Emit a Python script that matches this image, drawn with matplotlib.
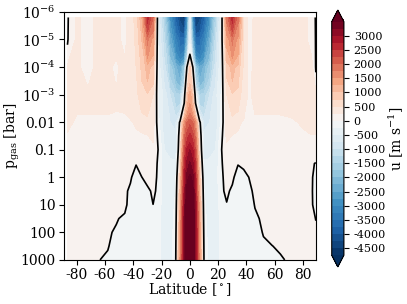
import numpy as np
import matplotlib
matplotlib.use("Agg")
import matplotlib.pyplot as plt
from matplotlib.colors import TwoSlopeNorm

plt.rcParams.update({
    "font.family": "serif",
    "font.serif": ["DejaVu Serif"],
    "mathtext.fontset": "dejavuserif",
})

# latitude nodes [deg] and pressure levels [bar] of the zonal-mean wind table
lat = [-86.5, -80, -72, -64, -58, -52, -46, -42, -38, -34, -30, -26, -22, -18,
       -14, -10, -7, -4, -2, 0, 2, 4, 7, 10, 14, 18, 22, 26, 30, 34, 38, 42,
       46, 52, 58, 64, 72, 80, 86, 89]
pres = [1.6e-6, 1e-5, 1e-4, 1e-3, 1e-2, 0.0316, 0.1, 0.316, 1, 3.16, 10,
        31.6, 100, 316, 1000]

# zonal wind u [m/s], one row per pressure level (top to bottom)
u_wind = [
    [-30, 300, 150, 350, 350, 300, 200, 350, 600, 1200, 2600, 2000, -600, -1500, -2800, -3800, -4300, -4600, -3000, -600,
     -3000, -4600, -4300, -3800, -2800, -1500, -400, 1800, 2600, 1800, 500, 150, 300, 350, 350, 300, 350, 300, 200, -30],
    [-20, 300, 150, 350, 350, 300, 200, 350, 550, 1000, 1800, 1400, -500, -1200, -2300, -3200, -3600, -3600, -2200, -300,
     -2200, -3600, -3600, -3200, -2300, -1200, -300, 1300, 1800, 1400, 500, 150, 350, 350, 300, 350, 350, 300, 200, -20],
    [300, 300, 150, 350, 300, 200, 350, 350, 500, 800, 1100, 900, -400, -900, -1600, -2200, -2500, -1800, 100, 800,
     100, -1800, -2500, -2200, -1600, -900, -300, 800, 1100, 900, 450, 150, 350, 350, 300, 350, 350, 300, 350, -20],
    [350, 300, 350, 350, 350, 300, 300, 350, 450, 600, 700, 500, -300, -600, -1000, -1400, -1500, -200, 900, 1400,
     900, -200, -1500, -1400, -1000, -600, -250, 500, 700, 600, 400, 200, 350, 350, 350, 350, 350, 350, 350, 300],
    [330, 200, 150, 150, 150, 150, 180, 220, 300, 350, 350, 350, -200, -700, -750, -800, 100, 1500, 2000, 2200,
     2000, 1500, 100, -800, -750, -700, -200, 350, 350, 300, 220, 150, 150, 150, 150, 150, 200, 300, 330, 330],
    [200, 150, 120, 120, 120, 120, 120, 120, 150, 200, 240, 300, -100, -600, -650, -700, 300, 1900, 2400, 2600,
     2400, 1900, 300, -700, -650, -600, -100, 300, 240, 200, 150, 120, 120, 120, 120, 120, 120, 150, 240, 240],
    [100, 100, 100, 100, 100, 100, 100, 100, 100, 120, 150, 150, -20, -500, -550, -600, 400, 2200, 2800, 3000,
     2800, 2200, 400, -600, -550, -500, -20, 150, 150, 120, 100, 100, 100, 100, 100, 100, 100, 100, 100, 100],
    [100, 100, 100, 100, 100, 100, 100, 100, 11, 100, 100, 100, -40, -450, -450, -450, 600, 2500, 3100, 3300,
     3100, 2500, 600, -450, -450, -450, -30, 100, 100, 11, 43, 100, 100, 100, 100, 100, 100, 100, 20, -10],
    [100, 100, 100, 100, 100, 100, 100, 43, -150, -4, 100, 100, -60, -400, -400, -300, 800, 2700, 3400, 3600,
     3400, 2700, 800, -300, -400, -400, -60, 100, 67, -150, -100, 11, 100, 100, 100, 100, 100, 100, 20, -60],
    [100, 100, 100, 100, 100, 100, 100, -100, -150, -150, -100, 80, -100, -400, -400, -250, 1000, 2800, 3700, 3900,
     3700, 2800, 1000, -250, -400, -400, -100, 100, -100, -150, -150, -100, 100, 100, 100, 100, 100, 100, 20, -80],
    [100, 100, 100, 100, 100, 100, 92, -150, -150, -150, -150, -5, -150, -400, -400, -200, 1200, 3000, 3900, 4200,
     3900, 3000, 1200, -200, -400, -400, -150, -43, -150, -150, -150, -150, 19, 100, 100, 100, 100, 100, 20, -60],
    [100, 100, 100, 100, 100, 43, -100, -150, -150, -150, -150, -200, -200, -400, -400, -150, 1300, 3100, 3900, 4300,
     3900, 3100, 1300, -150, -400, -400, -200, -200, -150, -150, -150, -150, -100, 100, 100, 100, 100, 100, 50, -5],
    [100, 100, 100, 100, 100, -100, -150, -150, -150, -150, -150, -200, -200, -400, -400, -100, 1400, 3100, 3900, 4300,
     3900, 3100, 1400, -100, -400, -400, -200, -200, -150, -150, -150, -150, -150, 25, 100, 100, 100, 100, 100, 50],
    [100, 100, 100, 100, 25, -150, -150, -150, -150, -150, -150, -200, -200, -400, -400, -50, 1400, 3100, 3900, 4300,
     3900, 3100, 1400, -50, -400, -400, -200, -200, -150, -150, -150, -150, -150, -100, -11, 79, 100, 100, 100, 100],
    [100, 100, 100, 10, -100, -150, -150, -150, -150, -150, -150, -200, -200, -400, -400, -20, 1500, 3100, 3900, 4300,
     3900, 3100, 1500, -20, -400, -400, -200, -150, -150, -150, -150, -150, -150, -150, -100, -100, 167, 100, 100, 100],
]

levels = np.arange(-4750, 3501, 250)
cbar_ticks = np.arange(-4500, 3001, 500)
lat_ticks = np.arange(-80, 81, 20)
p_ticks = [1e-6, 1e-5, 1e-4, 1e-3, 1e-2, 0.1, 1, 10, 100, 1000]
p_labels = ['$10^{-6}$', '$10^{-5}$', '$10^{-4}$', '$10^{-3}$', '0.01', '0.1', '1', '10', '100', '1000']

fig = plt.figure(figsize=(4.07, 3.04), dpi=100)
ax = fig.add_axes([0.157, 0.145, 0.619, 0.816])
cax = fig.add_axes([0.815, 0.122, 0.030, 0.845])

u = np.array(u_wind, dtype=float)
norm = TwoSlopeNorm(vmin=levels[0], vcenter=0, vmax=levels[-1])
cf = ax.contourf(lat, pres, u, levels=levels, cmap='RdBu_r', norm=norm, extend='both')
ax.contour(lat, pres, u, levels=[0], colors='k', linewidths=1.2)

ax.set_yscale('log')
ax.set_ylim(1000, 1e-6)
ax.set_xlim(-89, 89)
ax.set_yticks(p_ticks)
ax.set_yticklabels(p_labels)
ax.minorticks_off()
ax.set_xticks(lat_ticks)
ax.set_xticklabels([str(t) for t in lat_ticks])
ax.tick_params(labelsize=10, pad=2.5)
ax.set_xlabel(r'Latitude [$^\circ$]', fontsize=10, labelpad=-1)
ax.set_ylabel(r'p$_{\rm gas}$ [bar]', fontsize=10, labelpad=-1)

cb = fig.colorbar(cf, cax=cax)
cb.set_ticks(cbar_ticks)
cb.set_ticklabels([str(t) for t in cbar_ticks])
cb.ax.tick_params(labelsize=8)
cb.set_label(r'u [m s$^{-1}$]', fontsize=10, labelpad=1)

plt.savefig('out.png', dpi=100)
